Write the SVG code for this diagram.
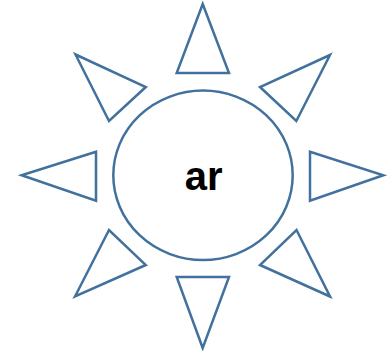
<svg xmlns="http://www.w3.org/2000/svg" width="389" height="351" viewBox="0 0 389 351">
<style>
.s{fill:#fff;stroke:#41719C;stroke-width:2.5;stroke-linejoin:miter}
.t{font-family:"Liberation Sans",Arial,sans-serif;font-weight:bold;font-size:40px;fill:#000;text-anchor:middle}
</style>
<rect width="389" height="351" fill="#fff"/>
<g id="rays">
<polygon id="ray-top" class="s" points="202.7,4 229,73 176.7,73"/>
<polygon id="ray-top-right" class="s" points="330,55 296.3,121 260,87"/>
<polygon id="ray-right" class="s" points="383.3,175.3 310,200.7 310,151.7"/>
<polygon id="ray-bottom-right" class="s" points="330,296.5 260,265 296.5,230"/>
<polygon id="ray-bottom" class="s" points="202.7,348 176.7,277 229,277"/>
<polygon id="ray-bottom-left" class="s" points="75,296.5 109,230 145.8,265"/>
<polygon id="ray-left" class="s" points="21.7,175.3 96,151.7 96,200.7"/>
<polygon id="ray-top-left" class="s" points="75.5,54.5 145.8,87 109,121"/>
</g>
<g id="center">
<ellipse class="s" cx="203" cy="175.3" rx="89.7" ry="84.7"/>
<text class="t" x="203.7" y="190">ar</text>
</g>
</svg>
